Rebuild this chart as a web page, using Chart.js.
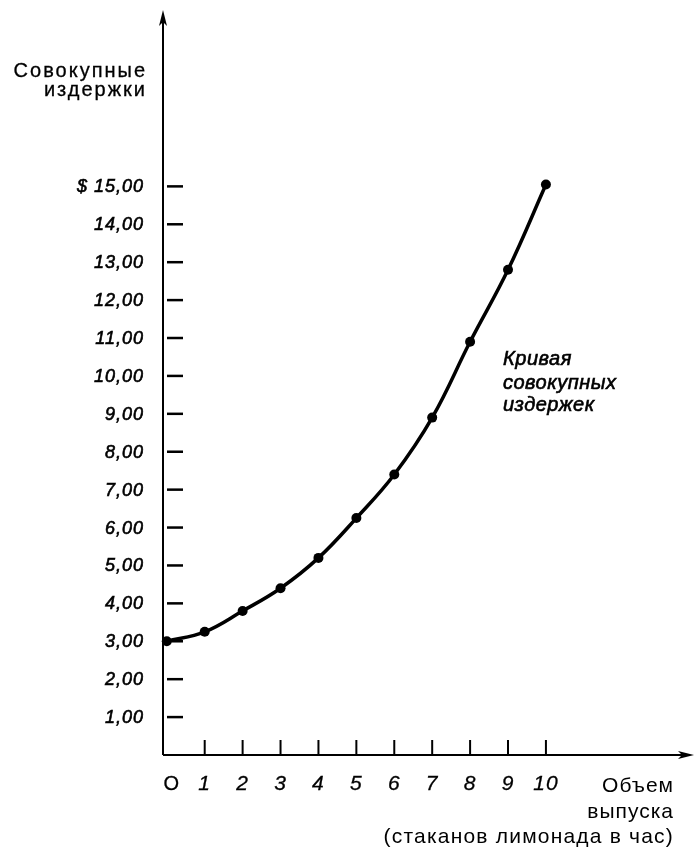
<!DOCTYPE html>
<html>
<head>
<meta charset="utf-8">
<script src="https://cdn.jsdelivr.net/npm/chart.js@4.4.0/dist/chart.umd.min.js"></script>
<style>
  html, body { margin: 0; padding: 0; background: #fff; }
  #costChart { display: block; }
</style>
</head>
<body>
<canvas id="costChart" width="696" height="848"></canvas>
<script>
// output, glasses of lemonade per hour
const quantity = [0, 1, 2, 3, 4, 5, 6, 7, 8, 9, 10];
// total cost
const totalCost = [3.00, 3.25, 3.80, 4.40, 5.20, 6.25, 7.40, 8.90, 10.90, 12.80, 15.05];

// axis ticks
const yTickValues = [1, 2, 3, 4, 5, 6, 7, 8, 9, 10, 11, 12, 13, 14, 15];
const yTickLabels = ['1,00', '2,00', '3,00', '4,00', '5,00', '6,00', '7,00', '8,00',
  '9,00', '10,00', '11,00', '12,00', '13,00', '14,00', '$ 15,00'];
const xTickValues = [1, 2, 3, 4, 5, 6, 7, 8, 9, 10];
const xTickLabels = ['1', '2', '3', '4', '5', '6', '7', '8', '9', '10'];

// texts
const yTitle = ['Совокупные', 'издержки'];
const xTitle = ['Объем', 'выпуска', '(стаканов лимонада в час)'];
const curveLabel = ['Кривая', 'совокупных', 'издержек'];
const originLabel = 'O';

const FONT = '"Liberation Sans", Arial, sans-serif';

// text with a thin outline so it looks as heavy as the print
const heavyText = (ctx, text, px, py) => {
  ctx.fillText(text, px, py);
  ctx.strokeText(text, px, py);
};

// axes, ticks and all the texts are drawn by hand
const axesPlugin = {
  id: 'axesPlugin',
  beforeDatasetsDraw(chart) {
    const ctx = chart.ctx;
    const area = chart.chartArea;
    const x = chart.scales.x;
    const y = chart.scales.y;
    ctx.save();
    ctx.strokeStyle = '#000';
    ctx.fillStyle = '#000';

    // y axis with arrow
    ctx.lineWidth = 2;
    ctx.beginPath();
    ctx.moveTo(area.left, area.bottom);
    ctx.lineTo(area.left, area.top + 4);
    ctx.stroke();
    ctx.beginPath();
    ctx.moveTo(area.left, area.top - 2);
    ctx.lineTo(area.left - 4, area.top + 14);
    ctx.lineTo(area.left, area.top + 10);
    ctx.lineTo(area.left + 4, area.top + 14);
    ctx.closePath();
    ctx.fill();

    // x axis with arrow
    ctx.beginPath();
    ctx.moveTo(area.left, area.bottom);
    ctx.lineTo(area.right - 4, area.bottom);
    ctx.stroke();
    ctx.beginPath();
    ctx.moveTo(area.right + 4, area.bottom);
    ctx.lineTo(area.right - 12, area.bottom - 4);
    ctx.lineTo(area.right - 8, area.bottom);
    ctx.lineTo(area.right - 12, area.bottom + 4);
    ctx.closePath();
    ctx.fill();

    // y ticks, a little off the axis
    ctx.lineWidth = 2.5;
    yTickValues.forEach(v => {
      const py = y.getPixelForValue(v);
      ctx.beginPath();
      ctx.moveTo(area.left + 4, py);
      ctx.lineTo(area.left + 20, py);
      ctx.stroke();
    });

    // x ticks going up
    ctx.lineWidth = 2;
    xTickValues.forEach(v => {
      const px = x.getPixelForValue(v);
      ctx.beginPath();
      ctx.moveTo(px, area.bottom);
      ctx.lineTo(px, area.bottom - 15);
      ctx.stroke();
    });
    ctx.restore();
  },
  afterDraw(chart) {
    const ctx = chart.ctx;
    const area = chart.chartArea;
    const x = chart.scales.x;
    const y = chart.scales.y;
    ctx.save();
    ctx.fillStyle = '#000';
    ctx.strokeStyle = '#000';
    ctx.lineWidth = 0.6;

    // y tick labels
    ctx.font = 'italic 18px ' + FONT;
    ctx.letterSpacing = '1px';
    ctx.textAlign = 'right';
    ctx.textBaseline = 'middle';
    yTickValues.forEach((v, i) => {
      heavyText(ctx, yTickLabels[i], area.left - 19, y.getPixelForValue(v) + 1);
    });

    // x tick labels
    ctx.font = 'italic 21px ' + FONT;
    ctx.textAlign = 'center';
    ctx.lineWidth = 0.3;
    xTickValues.forEach((v, i) => {
      heavyText(ctx, xTickLabels[i], x.getPixelForValue(v), area.bottom + 29);
    });
    ctx.font = '20px ' + FONT;
    heavyText(ctx, originLabel, x.getPixelForValue(0) + 5, area.bottom + 29);

    // axis titles
    ctx.textBaseline = 'alphabetic';
    ctx.textAlign = 'right';
    ctx.font = '20px ' + FONT;
    ctx.letterSpacing = '2px';
    heavyText(ctx, yTitle[0], 147, 77);
    heavyText(ctx, yTitle[1], 147, 96);

    ctx.font = '21px ' + FONT;
    ctx.letterSpacing = '1px';
    ctx.fillText(xTitle[0], 674, 792);
    ctx.fillText(xTitle[1], 674, 818);
    ctx.letterSpacing = '1.2px';
    ctx.fillText(xTitle[2], 674, 843);

    // curve label
    ctx.textAlign = 'left';
    ctx.font = 'italic 20px ' + FONT;
    ctx.letterSpacing = '0.5px';
    ctx.lineWidth = 0.6;
    heavyText(ctx, curveLabel[0], 503, 365);
    heavyText(ctx, curveLabel[1], 503, 389);
    heavyText(ctx, curveLabel[2], 503, 411);
    ctx.restore();
  }
};

new Chart('costChart', {
  type: 'line',
  data: {
    labels: quantity,
    datasets: [{
      data: quantity.map((q, i) => ({ x: q, y: totalCost[i] })),
      borderColor: '#000',
      backgroundColor: '#000',
      borderWidth: 3.5,
      pointRadius: 5,
      pointBorderWidth: 0,
      tension: 0.4,
      clip: false
    }]
  },
  options: {
    responsive: false,
    animation: false,
    layout: {
      padding: { left: 163, right: 6, top: 12, bottom: 93 }
    },
    plugins: {
      legend: { display: false },
      tooltip: { enabled: false }
    },
    scales: {
      x: { type: 'linear', min: -0.1, max: 13.8, display: false },
      y: { min: 0, max: 19.6, display: false }
    }
  },
  plugins: [axesPlugin]
});
</script>
</body>
</html>
